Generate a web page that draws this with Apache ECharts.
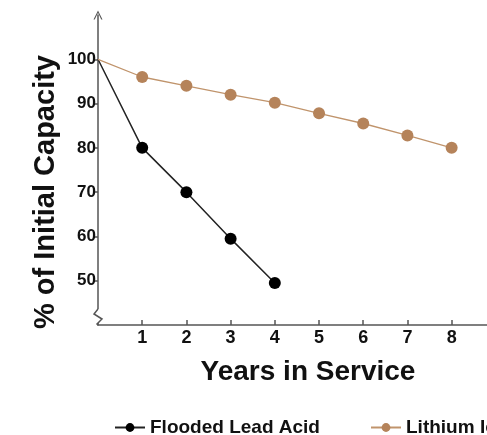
<!DOCTYPE html>
<html>
<head>
<meta charset="utf-8">
<script src="https://cdn.jsdelivr.net/npm/echarts@6/dist/echarts.min.js"></script>
<style>
  html, body { margin: 0; padding: 0; background: #fff; }
  #chart { width: 487px; height: 435px; }
</style>
</head>
<body>
<div id="chart"></div>
<script>
// values
const years = [0, 1, 2, 3, 4, 5, 6, 7, 8];
const leadAcid = [100, 80, 70, 59.5, 49.5];
const lithiumIon = [100, 96, 94, 92, 90.2, 87.8, 85.5, 82.8, 80];
const yTicks = [50, 60, 70, 80, 90, 100];
const xTicks = [1, 2, 3, 4, 5, 6, 7, 8];

const FONT = "Arial, 'Liberation Sans', sans-serif";

function toPoints(vals) {
  // first point (0, 100) is drawn without a dot
  return vals.map((v, i) => ({ value: [years[i], v], symbolSize: i === 0 ? 0 : 12 }));
}

const legendBase = {
  itemWidth: 30, itemHeight: 11, itemGap: 8,
  textStyle: { color: "#111", fontWeight: "bold", fontSize: 19, fontFamily: FONT }
};

const chart = echarts.init(document.getElementById("chart"));
chart.setOption({
  animation: false,
  grid: { left: 98, right: 0, top: 15, bottom: 110 },
  xAxis: {
    type: "value",
    min: 0,
    max: 8.8,
    splitLine: { show: false },
    axisLine: { lineStyle: { color: "#555", width: 1.5 } },
    axisTick: { inside: true, length: 5, customValues: xTicks, lineStyle: { color: "#555", width: 1.5 } },
    axisLabel: { customValues: xTicks, color: "#111", fontWeight: "bold", fontSize: 18, fontFamily: FONT, margin: 4 }
  },
  yAxis: {
    type: "value",
    min: 40,
    max: 110,
    interval: 10,
    splitLine: { show: false },
    axisLine: {
      show: true,
      symbol: ["none", "path://M0,10 L5,0 L10,10 L8.6,10 L5,2.6 L1.4,10 Z"],
      symbolSize: [9, 9],
      lineStyle: { color: "#555", width: 1.5 }
    },
    axisTick: { show: true, length: 5, customValues: yTicks, lineStyle: { color: "#555", width: 1.5 } },
    axisLabel: { customValues: yTicks, color: "#111", fontWeight: "bold", fontSize: 17, fontFamily: FONT, margin: 2 }
  },
  legend: [
    Object.assign({ data: ["Flooded Lead Acid"], left: 109, top: 413 }, legendBase),
    Object.assign({ data: ["Lithium Ion"], left: 365, top: 413 }, legendBase)
  ],
  graphic: [
    {
      type: "text", x: 46, y: 192, rotation: Math.PI / 2,
      style: { text: "% of Initial Capacity", font: "bold 29px " + FONT, fill: "#111", align: "center", verticalAlign: "middle" }
    },
    {
      type: "text", x: 308, y: 372,
      style: { text: "Years in Service", font: "bold 28px " + FONT, fill: "#111", align: "center", verticalAlign: "middle" }
    },
    // axis break mark on the y axis
    { type: "rect", shape: { x: 90, y: 309, width: 14, height: 14 }, style: { fill: "#fff" }, z: 100 },
    {
      type: "polyline", z: 101,
      shape: { points: [[98, 309], [94, 314], [102, 319], [97, 324], [98, 325]] },
      style: { stroke: "#555", lineWidth: 1.5, fill: null }
    }
  ],
  series: [
    {
      name: "Flooded Lead Acid",
      type: "line",
      data: toPoints(leadAcid),
      symbol: "circle",
      itemStyle: { color: "#000" },
      lineStyle: { color: "#222", width: 1.5 }
    },
    {
      name: "Lithium Ion",
      type: "line",
      data: toPoints(lithiumIon),
      symbol: "circle",
      itemStyle: { color: "#b5835a" },
      lineStyle: { color: "#c0946c", width: 1.3 }
    }
  ]
});
</script>
</body>
</html>
